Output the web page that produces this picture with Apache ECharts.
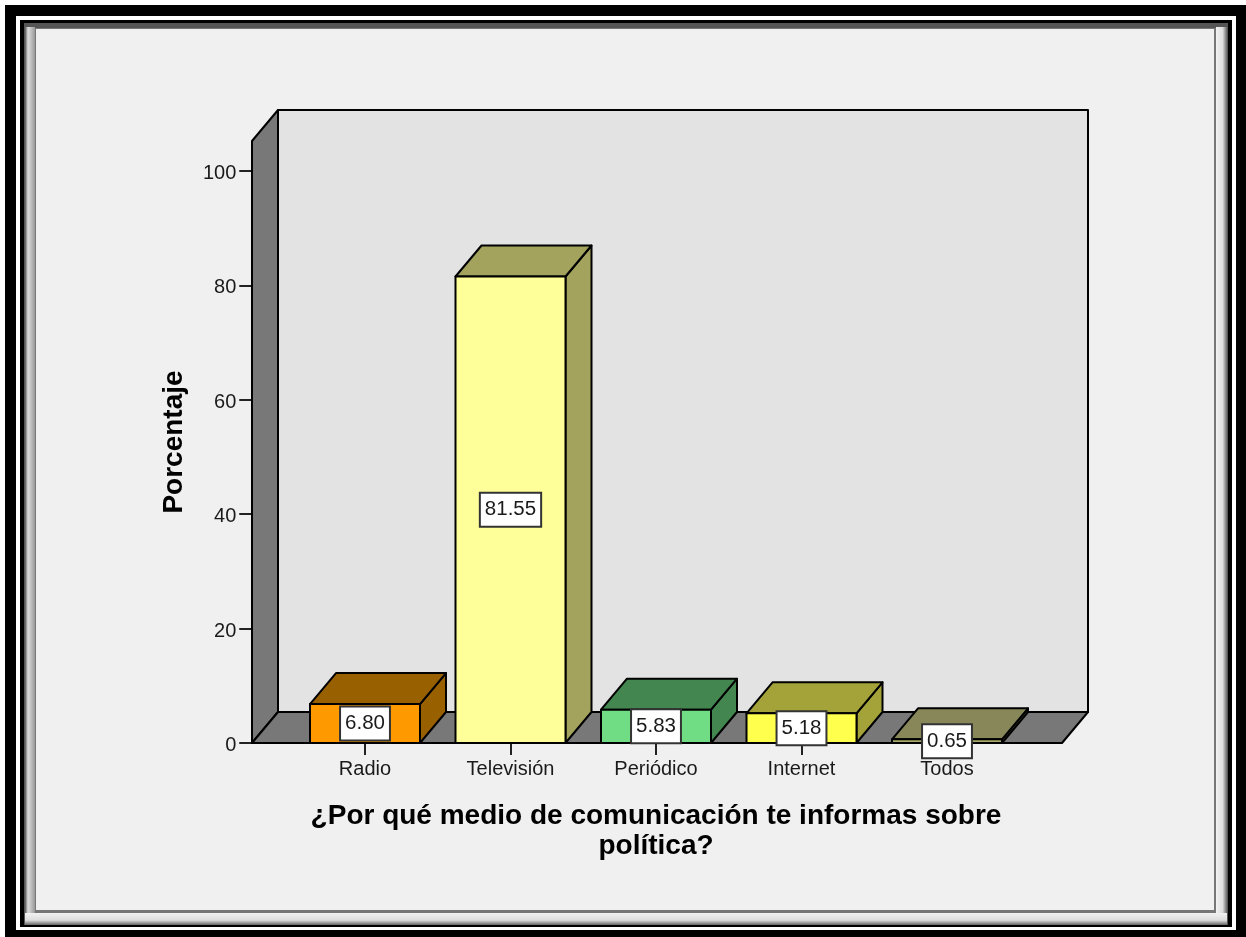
<!DOCTYPE html>
<html>
<head>
<meta charset="utf-8">
<title>Medio de comunicación</title>
<style>
  html, body { margin: 0; padding: 0; background: #fff; }
  #chart { width: 1246px; height: 937px; }
</style>
<script src="https://cdn.jsdelivr.net/npm/echarts@6/dist/echarts.min.js"></script>
</head>
<body>
<div id="chart"></div>
<script>
const categories = ['Radio', 'Televisión', 'Periódico', 'Internet', 'Todos'];
const percentages = [6.80, 81.55, 5.83, 5.18, 0.65];
const percentLabels = ['6.80', '81.55', '5.83', '5.18', '0.65'];
const yTicks = [0, 20, 40, 60, 80, 100];
const frontColors = ['#FF9900', '#FFFF99', '#70DD85', '#FFFF4D', '#A8A86A'];
const topColors = ['#996000', '#A3A35E', '#438650', '#A3A33A', '#878759'];

const DEPTH_X = 26;
const DEPTH_Y = -31;
const FONT = '"Liberation Sans", Arial, sans-serif';

// Dessine le sol et les deux murs derrière les barres
function renderWalls(params, api) {
  const bottom = api.coord([0, 0]);
  const top = api.coord([0, 105.24]);
  const left = bottom[0] - 113;
  const right = api.coord([4, 0])[0] + 115;
  const y0 = bottom[1];
  const y1 = top[1];
  const line = { stroke: '#000', lineWidth: 2, lineJoin: 'round' };
  const poly = (points, fill) => ({
    type: 'polygon',
    shape: { points: points },
    style: Object.assign({ fill: fill }, line)
  });
  return {
    type: 'group',
    children: [
      poly([[left + DEPTH_X, y1 + DEPTH_Y], [right + DEPTH_X, y1 + DEPTH_Y], [right + DEPTH_X, y0 + DEPTH_Y], [left + DEPTH_X, y0 + DEPTH_Y]], '#E3E3E3'),
      poly([[left, y0], [left + DEPTH_X, y0 + DEPTH_Y], [left + DEPTH_X, y1 + DEPTH_Y], [left, y1]], '#787878'),
      poly([[left, y0], [right, y0], [right + DEPTH_X, y0 + DEPTH_Y], [left + DEPTH_X, y0 + DEPTH_Y]], '#787878')
    ]
  };
}

// Barre 3D : face avant, dessus, côté et étiquette centrée
function renderBar(params, api) {
  const idx = params.dataIndex;
  const base = api.coord([api.value(0), 0]);
  const head = api.coord([api.value(0), api.value(1)]);
  const half = 55;
  const xl = base[0] - half;
  const xr = base[0] + half;
  const yb = base[1];
  const yt = head[1];
  const line = { stroke: '#000', lineWidth: 2, lineJoin: 'round' };
  const poly = (points, fill) => ({
    type: 'polygon',
    shape: { points: points },
    style: Object.assign({ fill: fill }, line)
  });
  return {
    type: 'group',
    children: [
      poly([[xr, yb], [xr + DEPTH_X, yb + DEPTH_Y], [xr + DEPTH_X, yt + DEPTH_Y], [xr, yt]], topColors[idx]),
      poly([[xl, yt], [xr, yt], [xr + DEPTH_X, yt + DEPTH_Y], [xl + DEPTH_X, yt + DEPTH_Y]], topColors[idx]),
      poly([[xl, yb], [xr, yb], [xr, yt], [xl, yt]], frontColors[idx]),
      {
        type: 'text',
        x: base[0],
        y: (yb + yt) / 2,
        style: {
          text: percentLabels[idx],
          font: '20.5px ' + FONT,
          fill: '#1a1a1a',
          align: 'center',
          verticalAlign: 'middle',
          backgroundColor: '#fff',
          borderColor: '#333',
          borderWidth: 2,
          padding: [6, 4, 5, 4]
        }
      }
    ]
  };
}

const chart = echarts.init(document.getElementById('chart'), null, { renderer: 'canvas' });

chart.setOption({
  animation: false,
  backgroundColor: '#fff',
  graphic: {
    elements: [
      { type: 'rect', z: -10, silent: true, shape: { x: 5, y: 5, width: 1241, height: 932 }, style: { fill: '#000' } },
      { type: 'rect', z: -9, silent: true, shape: { x: 16, y: 16, width: 1220, height: 914 }, style: { fill: '#fff' } },
      { type: 'rect', z: -8, silent: true, shape: { x: 20, y: 20, width: 1212, height: 907 }, style: { fill: '#000' } },
      { type: 'rect', z: -7, silent: true, shape: { x: 24, y: 23, width: 1204, height: 902 }, style: { fill: '#555' } },
      { type: 'rect', z: -6, silent: true, shape: { x: 25, y: 27, width: 10, height: 897 },
        style: { fill: new echarts.graphic.LinearGradient(0, 0, 1, 0, [{ offset: 0, color: '#555' }, { offset: 0.3, color: '#ddd' }, { offset: 1, color: '#999' }]) } },
      { type: 'rect', z: -6, silent: true, shape: { x: 1216, y: 27, width: 11, height: 897 },
        style: { fill: new echarts.graphic.LinearGradient(0, 0, 1, 0, [{ offset: 0, color: '#f2f2f2' }, { offset: 0.6, color: '#ddd' }, { offset: 1, color: '#666' }]) } },
      { type: 'rect', z: -6, silent: true, shape: { x: 25, y: 913, width: 1202, height: 12 },
        style: { fill: new echarts.graphic.LinearGradient(0, 0, 0, 1, [{ offset: 0, color: '#f2f2f2' }, { offset: 0.6, color: '#ddd' }, { offset: 1, color: '#666' }]) } },
      { type: 'rect', z: -5, silent: true, shape: { x: 35, y: 28, width: 1181, height: 885 }, style: { fill: '#777' } },
      { type: 'rect', z: -4, silent: true, shape: { x: 36, y: 29, width: 1178, height: 881 }, style: { fill: '#F0F0F0' } }
    ]
  },
  grid: { left: 292.25, width: 727.5, top: 141, height: 602 },
  xAxis: {
    type: 'category',
    data: categories,
    axisLine: { show: false },
    axisTick: { show: true, alignWithLabel: true, length: 12, lineStyle: { color: '#222', width: 2 } },
    axisLabel: { color: '#1a1a1a', fontFamily: FONT, fontSize: 20, margin: 16, interval: 0 },
    name: '¿Por qué medio de comunicación te informas sobre\npolítica?',
    nameLocation: 'middle',
    nameGap: 58,
    nameTextStyle: { color: '#000', fontFamily: FONT, fontSize: 28, fontWeight: 'bold', lineHeight: 30 }
  },
  yAxis: {
    type: 'value',
    min: 0,
    max: 105.24,
    offset: 40,
    splitLine: { show: false },
    axisLine: { show: true, lineStyle: { color: '#222', width: 1.5 } },
    axisTick: { show: true, length: 13, customValues: yTicks, lineStyle: { color: '#222', width: 2 } },
    axisLabel: {
      margin: 16,
      customValues: yTicks,
      formatter: '{v|{value}}',
      rich: { v: { color: '#1a1a1a', fontFamily: FONT, fontSize: 20, padding: [5, 0, 0, 0] } }
    },
    name: 'Porcentaje',
    nameLocation: 'middle',
    nameGap: 64,
    nameTextStyle: { color: '#000', fontFamily: FONT, fontSize: 28, fontWeight: 'bold' }
  },
  series: [
    { type: 'custom', z: 1, silent: true, clip: false, renderItem: renderWalls, data: [[0, 0]] },
    {
      type: 'custom',
      z: 2,
      clip: false,
      renderItem: renderBar,
      encode: { x: 0, y: 1 },
      data: percentages.map((v, i) => [i, v])
    }
  ]
});

window.addEventListener('resize', chart.resize);
</script>
</body>
</html>
